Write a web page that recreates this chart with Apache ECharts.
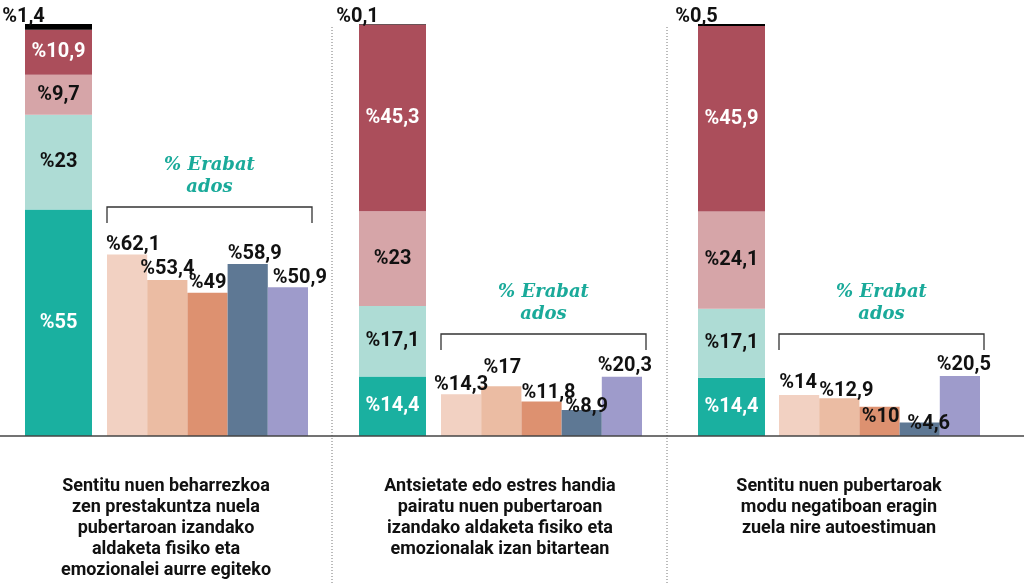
<!DOCTYPE html>
<html>
<head>
<meta charset="utf-8">
<script src="https://cdn.jsdelivr.net/npm/echarts@6/dist/echarts.min.js"></script>
<style>
html, body { margin: 0; padding: 0; background: #fff; }
#main { width: 1024px; height: 585px; }
</style>
</head>
<body>
<div id="main"></div>
<script>
// galderak (beheko testuak)
const questions = [
  'Sentitu nuen beharrezkoa\nzen prestakuntza nuela\npubertaroan izandako\naldaketa fisiko eta\nemozionalei aurre egiteko',
  'Antsietate edo estres handia\npairatu nuen pubertaroan\nizandako aldaketa fisiko eta\nemozionalak izan bitartean',
  'Sentitu nuen pubertaroak\nmodu negatiboan eragin\nzuela nire autoestimuan'
];

// barra metatua, behetik gora
const stackGreen = [55, 14.4, 14.4];
const stackTeal = [23, 17.1, 17.1];
const stackPink = [9.7, 23, 24.1];
const stackRed = [10.9, 45.3, 45.9];
const stackBlack = [1.4, 0.1, 0.5];

// "% Erabat ados" barrak
const smallCategories = ['1', '2', '3', '4', '5'];
const smallValues1 = [62.1, 53.4, 49, 58.9, 50.9];
const smallValues2 = [14.3, 17, 11.8, 8.9, 20.3];
const smallValues3 = [14, 12.9, 10, 4.6, 20.5];
const smallValues = [smallValues1, smallValues2, smallValues3];

const smallColors = ['#f2d1c2', '#ebbca3', '#dd9170', '#5e7894', '#9e9bcb'];
const segments = [
  { values: stackGreen, color: '#1ab0a0', text: '#fff' },
  { values: stackTeal, color: '#aedcd5', text: '#111' },
  { values: stackPink, color: '#d6a5a8', text: '#111' },
  { values: stackRed, color: '#ab4e5b', text: '#fff' },
  { values: stackBlack, color: '#000', text: '#111', outside: true }
];

// kokapenak
const stackLeft = [25, 359, 698];
const smallLeft = [107, 441, 779];
const bracketY = [207, 334, 334];
// etiketen mugimendu txikiak [dx, dy], jatorrizkoan eskuz jarriak
const labelNudges = [
  [[6, 1], [0, 0], [0, 1], [7, 1], [12, 2]],
  [[0, 2], [1, -7], [7, 2], [5, 8], [3, 0]],
  [[-1, -1], [7, 4], [1, 21], [9, 12], [4, 0]]
];
const FONT = 'Roboto, "DejaVu Sans", sans-serif';

const fmt = v => '%' + String(v).replace('.', ',');

const grids = [], xAxes = [], yAxes = [], series = [];
for (let g = 0; g < 3; g++) {
  const total = segments.reduce((s, seg) => s + seg.values[g], 0);
  grids.push({ left: stackLeft[g], width: 67, top: 24, bottom: 149 });
  grids.push({ left: smallLeft[g], width: 201, top: 24, bottom: 149 });
  xAxes.push({ type: 'category', gridIndex: 2 * g, data: ['q' + (g + 1)], show: false });
  xAxes.push({ type: 'category', gridIndex: 2 * g + 1, data: smallCategories, show: false });
  yAxes.push({ type: 'value', gridIndex: 2 * g, min: 0, max: total, show: false });
  yAxes.push({ type: 'value', gridIndex: 2 * g + 1, min: 0, max: 141, show: false });

  segments.forEach(seg => {
    series.push({
      type: 'bar',
      xAxisIndex: 2 * g,
      yAxisIndex: 2 * g,
      stack: 'total' + g,
      barWidth: '100%',
      data: [seg.values[g]],
      itemStyle: { color: seg.color },
      label: {
        show: true,
        position: seg.outside ? 'top' : 'inside',
        distance: 0,
        offset: seg.outside ? [-35, 3] : [0, 0],
        formatter: p => fmt(p.value),
        color: seg.text,
        fontFamily: FONT,
        fontWeight: 'bold',
        fontSize: 20
      }
    });
  });

  series.push({
    type: 'bar',
    xAxisIndex: 2 * g + 1,
    yAxisIndex: 2 * g + 1,
    barWidth: '100%',
    data: smallValues[g].map((v, i) => ({ value: v, label: { offset: labelNudges[g][i] } })),
    itemStyle: { color: p => smallColors[p.dataIndex] },
    label: {
      show: true,
      position: 'top',
      distance: 1,
      formatter: p => fmt(p.value),
      color: '#111',
      fontFamily: FONT,
      fontWeight: 'bold',
      fontSize: 20
    }
  });
}

const graphic = [];
// oinarri lerroa
graphic.push({
  type: 'line', shape: { x1: 0, y1: 436, x2: 1024, y2: 436 },
  style: { stroke: '#444', lineWidth: 1.5 }, z: 10
});
// puntuzko bereizleak
[332, 667].forEach(x => graphic.push({
  type: 'line', shape: { x1: x, y1: 27, x2: x, y2: 585 },
  style: { stroke: '#777', lineWidth: 1, lineDash: [1, 2] }
}));
for (let g = 0; g < 3; g++) {
  const x0 = smallLeft[g], x1 = smallLeft[g] + 205, y = bracketY[g];
  graphic.push({
    type: 'polyline',
    shape: { points: [[x0, y + 16], [x0, y], [x1, y], [x1, y + 16]] },
    style: { stroke: '#333', lineWidth: 1.3, fill: null }
  });
  graphic.push({
    type: 'text', x: (x0 + x1) / 2, y: y - 53,
    style: {
      text: '% Erabat\nados', align: 'center', verticalAlign: 'top',
      font: 'italic bold 18px "DejaVu Serif", serif', fill: '#1aaa9a', lineHeight: 22
    }
  });
  graphic.push({
    type: 'text', x: stackLeft[g] + 141, y: 476,
    style: {
      text: questions[g], align: 'center', verticalAlign: 'top',
      font: 'bold 18px ' + FONT, fill: '#111', lineHeight: 21
    }
  });
}

const chart = echarts.init(document.getElementById('main'));
chart.setOption({
  animation: false,
  grid: grids,
  xAxis: xAxes,
  yAxis: yAxes,
  series: series,
  graphic: graphic
});
</script>
</body>
</html>
